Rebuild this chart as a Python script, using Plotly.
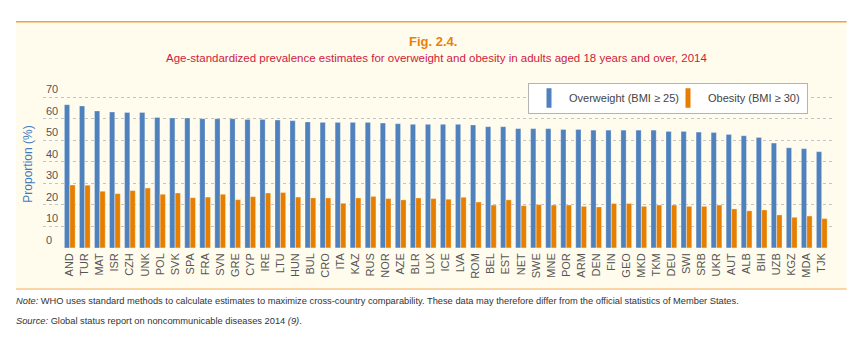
import plotly.graph_objects as go

countries = ["AND","TUR","MAT","ISR","CZH","UNK","POL","SVK","SPA","FRA","SVN","GRE","CYP","IRE","LTU",
             "HUN","BUL","CRO","ITA","KAZ","RUS","NOR","AZE","BLR","LUX","ICE","LVA","ROM","BEL","EST",
             "NET","SWE","MNE","POR","ARM","DEN","FIN","GEO","MKD","TKM","DEU","SWI","SRB","UKR","AUT",
             "ALB","BIH","UZB","KGZ","MDA","TJK"]
overweight = [66.5,65.9,63.6,63.1,62.9,62.9,60.6,60.3,60.3,60.0,60.0,60.0,59.7,59.7,59.4,
              59.1,58.5,58.3,58.3,58.3,58.3,58.0,57.7,57.4,57.4,57.4,57.4,57.1,56.3,56.3,
              55.4,55.4,55.4,55.0,55.0,54.7,54.7,54.7,54.7,54.7,54.1,54.1,53.8,53.6,52.7,
              52.1,51.3,48.7,46.5,46.1,44.7]
obesity = [29.2,29.1,26.3,25.2,26.6,27.8,24.9,25.5,23.3,23.6,24.9,22.4,23.8,25.5,25.7,
           23.6,23.2,23.2,20.7,23.2,23.9,22.9,22.3,23.2,22.9,22.6,23.5,21.3,19.9,22.3,
           19.6,20.1,19.9,19.9,19.3,19.0,20.6,20.6,19.3,19.9,19.9,19.3,19.3,19.9,18.1,
           17.2,17.6,15.3,14.2,14.8,13.6]
series_names = ["Overweight (BMI ≥ 25)", "Obesity (BMI ≥ 30)"]
y_ticks = [0, 10, 20, 30, 40, 50, 60, 70]

BLUE = "#4f81bd"
ORANGE = "#e67e00"
FONT = "Liberation Sans Narrow, Liberation Sans, Arial, sans-serif"

W, H = 859, 360
# pixel geometry: y=0 at 248.3 px, y=70 at 97.7 px
Y0_PX, Y70_PX = 248.3, 97.7
K = (Y0_PX - Y70_PX) / 70.0
YMIN, YMAX = -0.05, 78.0
L, R = 43, 832
B = Y0_PX + (0 - YMIN) * K
T = Y0_PX - YMAX * K

def px(x):
    return (x - L) / (R - L)

def py(y):
    return (B - y) / (B - T)

fig = go.Figure()
fig.add_trace(go.Bar(x=countries, y=overweight, name=series_names[0], marker_color=BLUE,
                     marker_line=dict(color="rgba(255,255,255,0.35)", width=0.8), showlegend=False))
fig.add_trace(go.Bar(x=countries, y=obesity, name=series_names[1], marker_color=ORANGE,
                     marker_line=dict(color="rgba(255,255,255,0.35)", width=0.8), showlegend=False))
# legend entries (vertical pill-like symbols)
for name, col in zip(series_names, [BLUE, ORANGE]):
    fig.add_trace(go.Scatter(x=[None], y=[None], mode="markers", name=name,
                             marker=dict(symbol="line-ns-open", size=14, color=col,
                                         line=dict(color=col, width=5))))

fig.update_layout(
    width=W, height=H,
    margin=dict(l=L, r=W - R, t=T, b=H - B, pad=0),
    paper_bgcolor="white", plot_bgcolor="rgba(0,0,0,0)",
    barmode="group", bargap=0.27, bargroupgap=0.05,
    font=dict(family=FONT, size=11, color="#555555"),
    xaxis=dict(range=[-1.78, 50.68], tickangle=-90, showgrid=False, showline=False,
               ticks="", tickfont=dict(size=11, color="#555555"), ticklabelstandoff=2),
    yaxis=dict(range=[YMIN, YMAX], tickvals=y_ticks, showgrid=True, gridcolor="#c4c4c4",
               griddash="dot", gridwidth=1, zeroline=False, showline=False, ticks="",
               ticklabelposition="inside", ticklabelshift=-8, ticklabelstandoff=0,
               tickfont=dict(size=11, color="#555555"),
               title=dict(text="Proportion (%)", font=dict(size=12, color="#3f7bc0"), standoff=10)),
    legend=dict(orientation="h", x=px(808), xanchor="right", y=py(83), yanchor="top",
                bgcolor="white", bordercolor="#b4b4b4", borderwidth=1,
                font=dict(size=11, color="#444444"), itemwidth=30, tracegroupgap=0,
                entrywidth=94, entrywidthmode="pixels"),
    shapes=[
        dict(type="rect", xref="paper", yref="paper", x0=px(16), x1=px(846.7), y0=py(289.3), y1=py(22.3),
             fillcolor="#fffcee", line=dict(width=0), layer="below"),
        dict(type="line", xref="paper", yref="paper", x0=px(16), x1=px(846.7), y0=py(22.3), y1=py(22.3),
             line=dict(color="#f0a040", width=1.5), layer="below"),
        dict(type="line", xref="paper", yref="paper", x0=px(16), x1=px(846.7), y0=py(289.3), y1=py(289.3),
             line=dict(color="#f7c98e", width=1.5), layer="below"),
    ],
    annotations=[
        dict(text="<b>Fig. 2.4.</b>", xref="paper", yref="paper", x=px(433), y=py(42),
             xanchor="center", yanchor="middle", showarrow=False,
             font=dict(size=13, color="#e8820c", family=FONT)),
        dict(text="Age-standardized prevalence estimates for overweight and obesity in adults aged 18 years and over, 2014",
             xref="paper", yref="paper", x=px(436), y=py(58.5), xanchor="center", yanchor="middle",
             showarrow=False, font=dict(size=11.5, color="#d01a3c", family=FONT)),
        dict(text="<i>Note:</i> WHO uses standard methods to calculate estimates to maximize cross-country comparability. These data may therefore differ from the official statistics of Member States.",
             xref="paper", yref="paper", x=px(14), y=py(301.5), xanchor="left", yanchor="middle",
             showarrow=False, font=dict(size=9.3, color="#333333", family=FONT)),
        dict(text="<i>Source:</i> Global status report on noncommunicable diseases 2014 <i>(9)</i>.",
             xref="paper", yref="paper", x=px(14), y=py(321), xanchor="left", yanchor="middle",
             showarrow=False, font=dict(size=9.3, color="#333333", family=FONT)),
    ],
)

fig.write_html("out.html", config={"displayModeBar": False},
               post_script="document.body.style.margin='0';")
